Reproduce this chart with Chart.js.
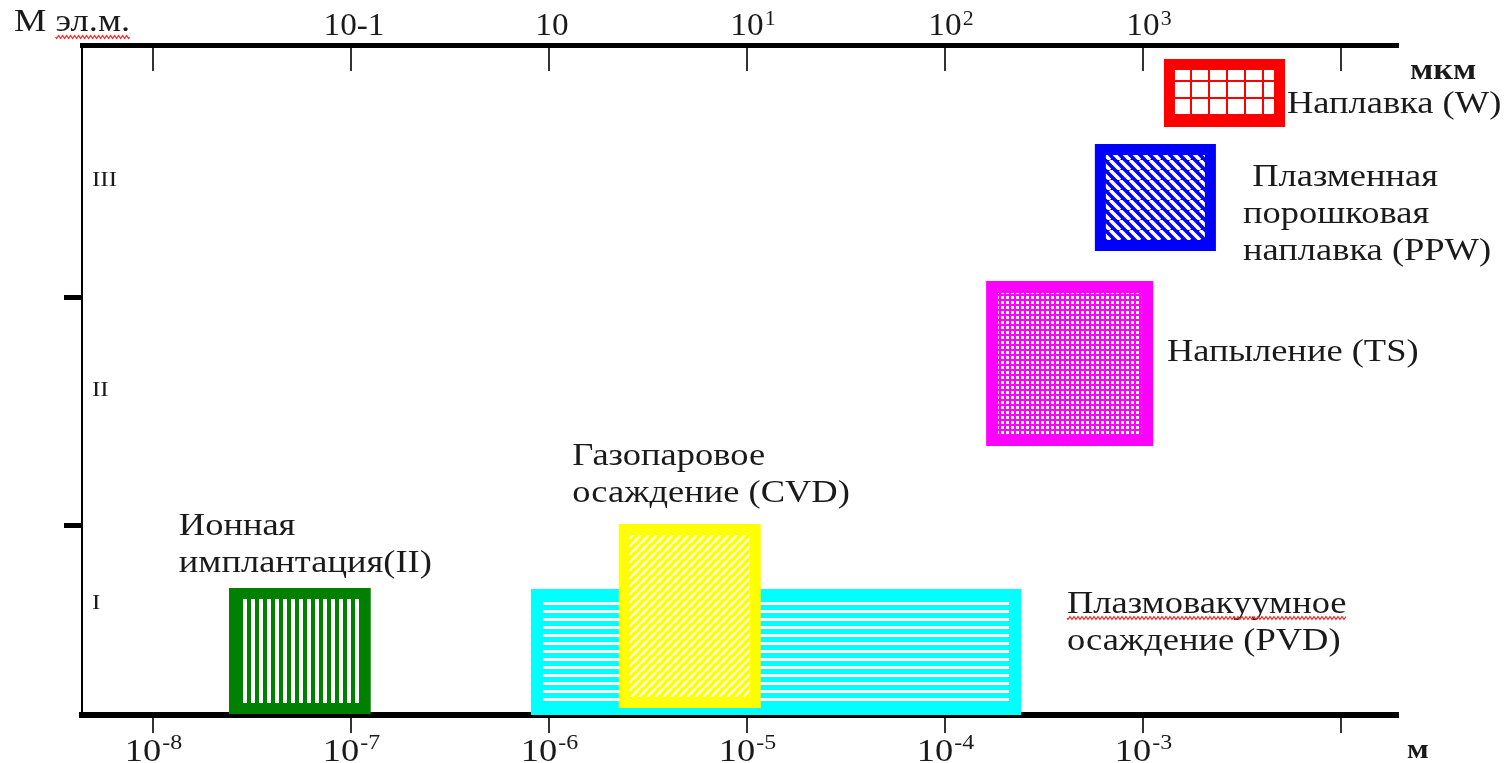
<!doctype html>
<html lang="ru">
<head>
<meta charset="utf-8">
<title>Методы нанесения покрытий</title>
<script src="https://cdn.jsdelivr.net/npm/chart.js@4.4.1/dist/chart.umd.min.js"></script>
<style>
  html, body { margin: 0; padding: 0; background: #fff; }
  canvas { display: block; }
</style>
</head>
<body>
<canvas id="chart" width="1504" height="763"></canvas>
<script>
// thickness ranges (m) and level ranges (arbitrary depth units 0..67) for each method
// CVD first so that it is drawn over PVD
const boxNames  = ['CVD', 'PVD', 'II', 'TS', 'PPW', 'W'];
const thickFrom = [2.40e-6, 8.69e-7, 2.58e-8, 1.73e-4, 6.09e-4, 1.36e-3];
const thickTo   = [1.10e-5, 2.26e-4, 1.18e-7, 1.05e-3, 2.19e-3, 4.89e-3];
const levelFrom = [1.25, 0.5, 0.65, 27.5, 46.95, 59.35];
const levelTo   = [18.55, 12.0, 12.15, 42.8, 56.55, 65.05];

// axes
const decades    = [1e-8, 1e-7, 1e-6, 1e-5, 1e-4, 1e-3, 1e-2];
const bottomBase = ['10', '10', '10', '10', '10', '10', ''];
const bottomExp  = ['-8', '-7', '-6', '-5', '-4', '-3', ''];
const topBase    = ['', '10-1', '10', '10', '10', '10', ''];
const topExp     = ['', '', '', '1', '2', '3', ''];
const levelBounds = [19, 41.8];
const levelNames  = ['I', 'II', 'III'];
const levelMid    = [11.2, 32.5, 53.5];

// captions next to the boxes (x in m, y in level units of the first line)
const noteText = ['Наплавка (W)', ' Плазменная\nпорошковая\nнаплавка (PPW)', 'Напыление (TS)',
                  'Газопаровое\nосаждение (CVD)', 'Ионная\nимплантация(II)', 'Плазмовакуумное\nосаждение (PVD)'];
const noteX = [5.33e-3, 3.20e-3, 1.32e-3, 1.31e-6, 1.35e-8, 4.13e-4];
const noteY = [61.0, 53.7, 36.2, 25.8, 18.8, 11.0];

const serif = "'Liberation Serif', 'DejaVu Serif', serif";
const STRETCH = 1.14;   // the source text is a bit wide

// hatch patterns
function makePattern(w, h, paint) {
  const c = document.createElement('canvas');
  c.width = w; c.height = h;
  const g = c.getContext('2d');
  paint(g, w, h);
  return g.createPattern(c, 'repeat');
}
function stripes(color, w, h, rect) {
  return makePattern(w, h, (g) => {
    g.fillStyle = color; g.fillRect(0, 0, w, h);
    g.fillStyle = '#fff'; g.fillRect(rect[0], rect[1], rect[2], rect[3]);
  });
}
function diagonal(color, s, lw, back) {
  return makePattern(s, s, (g) => {
    g.fillStyle = color; g.fillRect(0, 0, s, s);
    g.strokeStyle = '#fff'; g.lineWidth = lw;
    g.beginPath();
    for (let k = -1; k <= 1; k++) {
      if (back) { g.moveTo(k * s, 0); g.lineTo(k * s + s, s); }
      else { g.moveTo(k * s + s, 0); g.lineTo(k * s, s); }
    }
    g.stroke();
  });
}
const fills = {
  CVD: diagonal('#ffff00', 8, 2.2, false),
  PVD: stripes('#00ffff', 1, 8, [0, 2, 1, 3]),
  II:  stripes('#008000', 8, 1, [3, 0, 4, 1]),
  TS:  stripes('#ff00ff', 5, 5, [1, 1, 3, 3]),
  PPW: diagonal('#0000ff', 10, 3.5, true),
  W:   makePattern(18, 17, (g) => {
         g.fillStyle = '#fff'; g.fillRect(0, 0, 18, 17);
         g.fillStyle = '#ff0000'; g.fillRect(2, 0, 2, 17); g.fillRect(0, 12, 18, 2);
       })
};
const edgeColor = { CVD: '#ffff00', PVD: '#00ffff', II: '#008000', TS: '#ff00ff', PPW: '#0000ff', W: '#ff0000' };
const edgeWidth = { CVD: 11, PVD: 12, II: 11, TS: 12, PPW: 11, W: 11 };

const datasets = boxNames.map((name, i) => ({
  label: name,
  data: [
    { x: thickFrom[i], y: levelFrom[i] },
    { x: thickTo[i],   y: levelFrom[i] },
    { x: thickTo[i],   y: levelTo[i] },
    { x: thickFrom[i], y: levelTo[i] },
    { x: thickFrom[i], y: levelFrom[i] }
  ],
  fill: 'shape',
  backgroundColor: fills[name],
  borderColor: edgeColor[name],
  borderWidth: edgeWidth[name],
  borderJoinStyle: 'miter',
  borderCapStyle: 'square',
  pointRadius: 0,
  tension: 0
}));

// text drawn a little wider, returns its width
function wide(ctx, text, x, y, sx) {
  sx = sx || STRETCH;
  ctx.save();
  ctx.translate(x, y);
  ctx.scale(sx, 1);
  ctx.fillText(text, 0, 0);
  ctx.restore();
  return ctx.measureText(text).width * sx;
}

function wavy(ctx, x0, x1, y) {
  ctx.save();
  ctx.strokeStyle = '#ff2020';
  ctx.lineWidth = 1.2;
  ctx.beginPath();
  for (let x = x0; x <= x1; x += 1) {
    const yy = y + 1.4 * Math.sin((x - x0) * Math.PI / 2);
    if (x === x0) ctx.moveTo(x, yy); else ctx.lineTo(x, yy);
  }
  ctx.stroke();
  ctx.restore();
}

const notesPlugin = {
  id: 'notes',
  beforeDraw(chart) {
    const ctx = chart.ctx;
    ctx.save();
    ctx.fillStyle = '#fff';
    ctx.fillRect(0, 0, chart.width, chart.height);
    ctx.restore();
  },
  afterDraw(chart) {
    const { ctx, chartArea } = chart;
    const x = chart.scales.x, y = chart.scales.y;
    ctx.save();
    ctx.fillStyle = '#1a1a1a';
    ctx.textAlign = 'left';

    // tick labels, bottom axis (m)
    ctx.textBaseline = 'alphabetic';
    decades.forEach((v, i) => {
      if (!bottomBase[i]) return;
      const px = x.getPixelForValue(v);
      ctx.font = '32px ' + serif;
      const wb = ctx.measureText(bottomBase[i]).width * STRETCH;
      ctx.font = '21px ' + serif;
      const we = ctx.measureText(bottomExp[i]).width * STRETCH;
      const x0 = px - (wb + we) / 2;
      ctx.font = '32px ' + serif;
      wide(ctx, bottomBase[i], x0, chartArea.bottom + 46);
      ctx.font = '21px ' + serif;
      wide(ctx, bottomExp[i], x0 + wb + 1, chartArea.bottom + 34);
    });
    // tick labels, top axis (µm)
    decades.forEach((v, i) => {
      if (!topBase[i]) return;
      const px = x.getPixelForValue(v);
      ctx.font = '32px ' + serif;
      const wb = ctx.measureText(topBase[i]).width * 1.04;
      const x0 = px - wb / 2 + (topExp[i] ? 0 : 3);
      wide(ctx, topBase[i], x0, chartArea.top - 10, 1.04);
      if (topExp[i]) {
        ctx.font = '21px ' + serif;
        wide(ctx, topExp[i], x0 + wb + 1, chartArea.top - 20, 1.04);
      }
    });

    ctx.textBaseline = 'middle';
    ctx.font = '32px ' + serif;
    noteText.forEach((t, i) => {
      const px = x.getPixelForValue(noteX[i]);
      const py = y.getPixelForValue(noteY[i]);
      t.split('\n').forEach((line, j) => wide(ctx, line, px, py + j * 37));
    });
    // spell-check underline under "Плазмовакуумное"
    const pv = noteText.length - 1;
    const pvx = x.getPixelForValue(noteX[pv]);
    const pvw = ctx.measureText(noteText[pv].split('\n')[0]).width * STRETCH;
    wavy(ctx, pvx, pvx + pvw, y.getPixelForValue(noteY[pv]) + 13);

    // level numbers
    ctx.font = '22px ' + serif;
    levelNames.forEach((n, i) => {
      wide(ctx, n, chartArea.left + 10, y.getPixelForValue(levelMid[i]));
    });

    // axis titles
    ctx.font = '32px ' + serif;
    const mw = wide(ctx, 'M ', 14, chartArea.top - 22);
    const ew = wide(ctx, 'эл.м.', 14 + mw, chartArea.top - 22);
    wavy(ctx, 14 + mw, 14 + mw + ew, chartArea.top - 8);

    ctx.font = 'bold 30px ' + serif;
    wide(ctx, 'мкм', chartArea.right + 12, chartArea.top + 26);
    ctx.font = 'bold 28px ' + serif;
    wide(ctx, 'м', chartArea.right + 9, chartArea.bottom + 36);
    ctx.restore();
  }
};

const decadeTicks = (scale) => { scale.ticks = decades.map(v => ({ value: v })); };

new Chart(document.getElementById('chart'), {
  type: 'line',
  data: { datasets },
  plugins: [notesPlugin],
  options: {
    responsive: false,
    animation: false,
    events: [],
    layout: { padding: { left: 0, right: 106, top: 0, bottom: 0 } },
    plugins: { legend: { display: false }, tooltip: { enabled: false } },
    scales: {
      x: {
        type: 'logarithmic',
        position: 'bottom',
        min: 4.38e-9,
        max: 1.94e-2,
        afterBuildTicks: decadeTicks,
        afterFit: (s) => { s.height = 48; },
        grid: { drawOnChartArea: false, tickLength: 18, lineWidth: 2, color: '#333' },
        border: { width: 6, color: '#000' },
        ticks: { display: false }
      },
      x2: {
        type: 'logarithmic',
        position: 'top',
        min: 4.38e-9,
        max: 1.94e-2,
        afterBuildTicks: decadeTicks,
        afterFit: (s) => { s.height = 45; },
        grid: { drawOnChartArea: false, tickLength: -26, lineWidth: 2, color: '#333' },
        border: { width: 5, color: '#000' },
        ticks: { display: false }
      },
      y: {
        type: 'linear',
        position: 'left',
        min: 0,
        max: 67,
        afterBuildTicks: (s) => { s.ticks = levelBounds.map(v => ({ value: v })); },
        afterFit: (s) => { s.width = 82; },
        grid: { drawOnChartArea: false, tickLength: 18, lineWidth: 5, color: '#000' },
        border: { width: 2, color: '#000' },
        ticks: { display: false }
      }
    }
  }
});
</script>
</body>
</html>
